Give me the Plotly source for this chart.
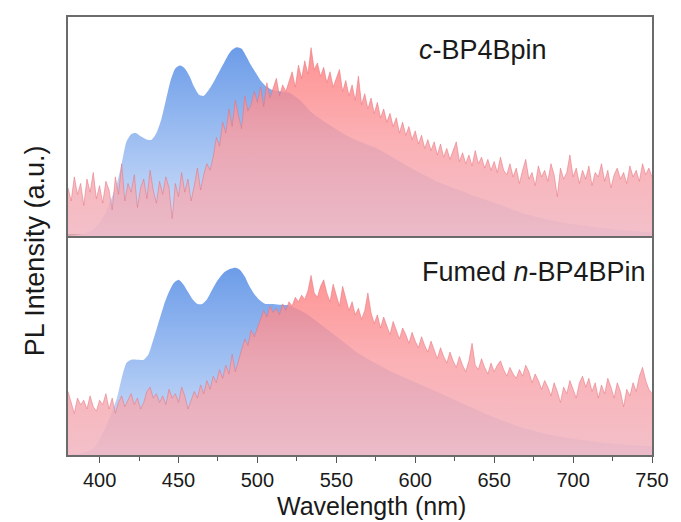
import plotly.graph_objects as go

# ---------------- data (normalised PL intensity) ----------------
wl_red = list(range(380, 751, 2))

red_top = [
    0.22, 0.16, 0.27, 0.19, 0.24, 0.14, 0.26, 0.20, 0.29, 0.17,
    0.23, 0.15, 0.25, 0.21, 0.12, 0.27, 0.19, 0.33, 0.16, 0.24,
    0.20, 0.28, 0.13, 0.22, 0.26, 0.17, 0.30, 0.21, 0.15, 0.25,
    0.19, 0.27, 0.22, 0.08, 0.24, 0.18, 0.29, 0.20, 0.26, 0.16,
    0.23, 0.31, 0.21, 0.28, 0.33, 0.30, 0.36, 0.45, 0.41, 0.52,
    0.47, 0.58, 0.50, 0.62, 0.55, 0.49, 0.64, 0.57, 0.60, 0.66,
    0.61, 0.68, 0.59, 0.70, 0.63, 0.67, 0.72, 0.64, 0.69, 0.66,
    0.71, 0.75, 0.68, 0.78, 0.72, 0.80, 0.74, 0.86, 0.76, 0.79,
    0.73, 0.77, 0.70, 0.75, 0.68, 0.72, 0.76, 0.66, 0.71, 0.64,
    0.69, 0.62, 0.73, 0.60, 0.65, 0.58, 0.63, 0.56, 0.61, 0.54,
    0.58, 0.52, 0.56, 0.50, 0.54, 0.47, 0.52, 0.46, 0.50, 0.44,
    0.48, 0.42, 0.46, 0.40, 0.44, 0.39, 0.43, 0.37, 0.42, 0.36,
    0.40, 0.35, 0.39, 0.43, 0.34, 0.38, 0.33, 0.37, 0.32, 0.39,
    0.33, 0.36, 0.31, 0.35, 0.30, 0.34, 0.29, 0.36, 0.30, 0.28,
    0.33, 0.27, 0.31, 0.24, 0.30, 0.35, 0.26, 0.29, 0.23, 0.32,
    0.27, 0.30, 0.25, 0.33, 0.28, 0.18, 0.31, 0.26, 0.29, 0.37,
    0.27, 0.31, 0.24, 0.30, 0.26, 0.32, 0.23, 0.29, 0.27, 0.33,
    0.25, 0.30, 0.22, 0.28, 0.31, 0.26, 0.29, 0.24, 0.32, 0.27,
    0.30, 0.25, 0.33, 0.28, 0.31, 0.27,
]

red_bottom = [
    0.29, 0.24, 0.19, 0.26, 0.23, 0.25, 0.21, 0.27, 0.22, 0.20,
    0.25, 0.23, 0.28, 0.21, 0.26, 0.19, 0.24, 0.27, 0.22, 0.25,
    0.28, 0.23, 0.26, 0.21, 0.24, 0.29, 0.31, 0.26, 0.28, 0.24,
    0.27, 0.23, 0.30, 0.26, 0.28, 0.24, 0.31, 0.27, 0.21, 0.25,
    0.29, 0.26, 0.32, 0.28, 0.34, 0.30, 0.36, 0.33, 0.39, 0.35,
    0.41, 0.37, 0.46, 0.38, 0.43, 0.49, 0.53, 0.50, 0.57, 0.54,
    0.58, 0.62, 0.66, 0.63, 0.68, 0.65, 0.67, 0.64, 0.69, 0.66,
    0.70, 0.68, 0.72, 0.70, 0.73, 0.71, 0.75, 0.82, 0.74, 0.72,
    0.77, 0.80, 0.74, 0.70, 0.78, 0.73, 0.68, 0.77, 0.71, 0.66,
    0.70, 0.64, 0.67, 0.62, 0.66, 0.74, 0.65, 0.60, 0.64, 0.58,
    0.63, 0.59, 0.55, 0.61, 0.57, 0.53, 0.58, 0.55, 0.51, 0.56,
    0.52, 0.49, 0.54, 0.50, 0.47, 0.52, 0.48, 0.44, 0.49, 0.45,
    0.42, 0.47, 0.43, 0.40, 0.45, 0.41, 0.38, 0.43, 0.51, 0.41,
    0.39, 0.44, 0.40, 0.37, 0.42, 0.38, 0.41, 0.43, 0.39, 0.36,
    0.40, 0.37, 0.35, 0.39, 0.36, 0.41, 0.38, 0.33, 0.37, 0.34,
    0.30, 0.34, 0.31, 0.27, 0.33, 0.29, 0.24, 0.31, 0.28, 0.34,
    0.30, 0.26, 0.33, 0.36, 0.31, 0.35, 0.29, 0.33, 0.26, 0.32,
    0.28, 0.35, 0.31, 0.26, 0.33, 0.29, 0.22, 0.30, 0.27, 0.33,
    0.29, 0.36, 0.40, 0.34, 0.30, 0.28,
]

wl_blue_top = [380, 390, 396, 400, 404, 408, 411, 414, 417, 420, 423, 426, 430, 433, 436,
               439, 442, 445, 448, 451, 454, 457, 460, 463, 466, 469, 472, 475, 478, 481,
               484, 487, 490, 493, 496, 499, 502, 506, 510, 515, 520, 527, 535, 545, 555,
               565, 577, 595, 615, 635, 653, 670, 690, 720, 750]
blue_top = [0.0, 0.01, 0.03, 0.06, 0.11, 0.18, 0.24, 0.33, 0.43, 0.465, 0.47, 0.455, 0.44, 0.44, 0.47,
            0.53, 0.62, 0.71, 0.765, 0.778, 0.765, 0.73, 0.68, 0.645, 0.64, 0.665, 0.70, 0.74, 0.78, 0.82,
            0.85, 0.862, 0.855, 0.82, 0.78, 0.745, 0.71, 0.68, 0.665, 0.66, 0.655, 0.62, 0.56, 0.51, 0.465,
            0.43, 0.395, 0.32, 0.245, 0.19, 0.145, 0.10, 0.065, 0.035, 0.015]

wl_blue_bottom = [380, 390, 396, 400, 404, 408, 411, 414, 417, 420, 424, 428, 431, 434, 438,
                  441, 444, 447, 450, 453, 456, 459, 462, 465, 468, 471, 475, 479, 483, 486,
                  489, 492, 495, 498, 501, 505, 510, 515, 520, 530, 545, 565, 585, 607, 630,
                  649, 670, 691, 720, 750]
blue_bottom = [0.0, 0.01, 0.03, 0.07, 0.13, 0.20, 0.26, 0.35, 0.42, 0.435, 0.435, 0.435, 0.46, 0.525, 0.62,
               0.69, 0.745, 0.785, 0.80, 0.78, 0.745, 0.71, 0.69, 0.69, 0.71, 0.75, 0.80, 0.835, 0.85, 0.855,
               0.845, 0.815, 0.77, 0.735, 0.71, 0.69, 0.69, 0.686, 0.683, 0.65, 0.57, 0.46, 0.38, 0.31, 0.235,
               0.175, 0.12, 0.084, 0.055, 0.04]

x_ticks = [400, 450, 500, 550, 600, 650, 700, 750]
label_top = "<i>c</i>-BP4Bpin"
label_bottom = "Fumed <i>n</i>-BP4BPin"

# ---------------- styles ----------------
blue_grad = dict(type="vertical", start=0, stop=0.86,
                 colorscale=[[0, "rgb(214,227,250)"], [0.5, "rgb(160,192,242)"], [1, "rgb(108,156,232)"]])
red_grad = dict(type="vertical", start=0, stop=0.86,
                colorscale=[[0, "rgba(240,178,190,0.82)"], [0.5, "rgba(250,160,165,0.82)"],
                            [1, "rgba(255,122,122,0.82)"]])
red_line = dict(color="rgba(228,112,122,0.75)", width=0.7)

fig = go.Figure()
# bottom panel
fig.add_trace(go.Scatter(x=wl_blue_bottom, y=blue_bottom, mode="lines", fill="tozeroy",
                         line=dict(width=0, shape="spline", smoothing=0.6), fillgradient=blue_grad,
                         xaxis="x", yaxis="y", hoverinfo="skip"))
fig.add_trace(go.Scatter(x=wl_red, y=red_bottom, mode="lines", fill="tozeroy",
                         line=red_line, fillgradient=red_grad, xaxis="x", yaxis="y", hoverinfo="skip"))
# top panel
fig.add_trace(go.Scatter(x=wl_blue_top, y=blue_top, mode="lines", fill="tozeroy",
                         line=dict(width=0, shape="spline", smoothing=0.6), fillgradient=blue_grad,
                         xaxis="x2", yaxis="y2", hoverinfo="skip"))
fig.add_trace(go.Scatter(x=wl_red, y=red_top, mode="lines", fill="tozeroy",
                         line=red_line, fillgradient=red_grad, xaxis="x2", yaxis="y2", hoverinfo="skip"))

axis_line = dict(showline=True, linecolor="#6b6b6b", linewidth=1.5, mirror=True,
                 showgrid=False, zeroline=False)
font_main = "Liberation Sans, Arial, sans-serif"

fig.update_layout(
    width=681, height=522,
    margin=dict(l=68, r=24, t=17, b=67),
    paper_bgcolor="white", plot_bgcolor="white",
    showlegend=False,
    font=dict(family=font_main, color="#1a1a1a"),
    xaxis=dict(**axis_line, range=[380, 750], anchor="y", tickvals=x_ticks,
               ticks="outside", ticklen=6, tickwidth=1.3, tickcolor="#555",
               tickfont=dict(size=20, family=font_main, color="#1a1a1a"),
               minor=dict(dtick=25, tick0=375, ticks="outside", ticklen=4, tickwidth=1.1, tickcolor="#555")),
    xaxis2=dict(**axis_line, range=[380, 750], anchor="y2", matches="x",
                showticklabels=False, ticks=""),
    yaxis=dict(**axis_line, domain=[0, 0.5], range=[0, 1], showticklabels=False, ticks=""),
    yaxis2=dict(**axis_line, domain=[0.5, 1], range=[0, 1], showticklabels=False, ticks=""),
    annotations=[
        dict(text=label_top, xref="paper", yref="paper", x=0.71, y=0.925,
             xanchor="center", yanchor="middle", showarrow=False,
             font=dict(size=27, family=font_main, color="#1a1a1a")),
        dict(text=label_bottom, xref="paper", yref="paper", x=0.993, y=0.418,
             xanchor="right", yanchor="middle", showarrow=False,
             font=dict(size=27, family=font_main, color="#1a1a1a")),
        dict(text="PL Intensity (a.u.)", xref="paper", yref="paper", x=-0.056, y=0.466,
             xanchor="center", yanchor="middle", textangle=-90, showarrow=False,
             font=dict(size=27, family=font_main, color="#1a1a1a")),
        dict(text="Wavelength (nm)", xref="paper", yref="paper", x=0.52, y=-0.116,
             xanchor="center", yanchor="middle", showarrow=False,
             font=dict(size=25, family=font_main, color="#1a1a1a")),
    ],
)

fig.write_html("out.html")
